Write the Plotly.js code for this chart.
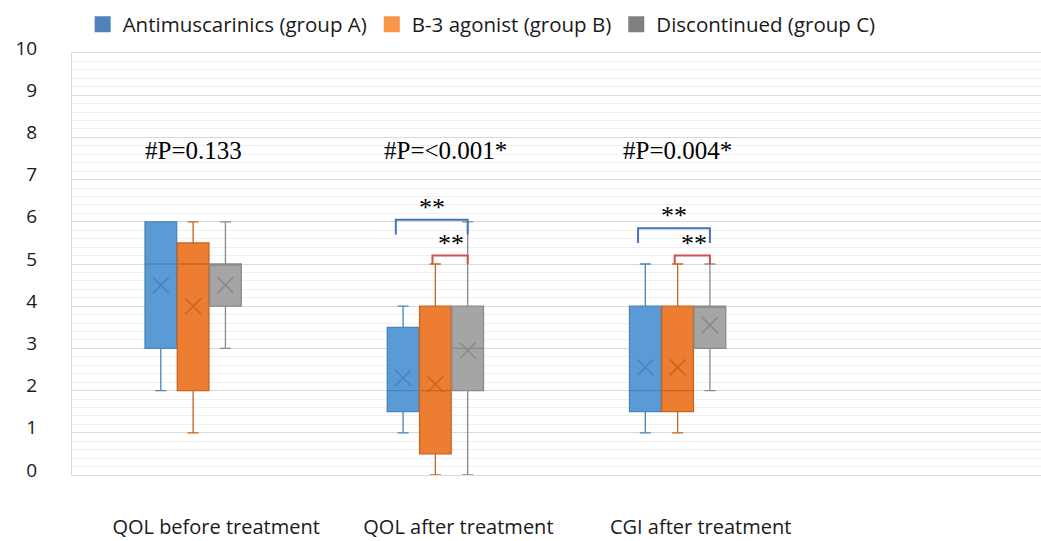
<!DOCTYPE html>
<html><head><meta charset="utf-8">
<script src="https://cdn.plot.ly/plotly-3.0.1.min.js"></script>
<style>html,body{margin:0;padding:0;background:#fff}#chart{width:1041px;height:541px}</style>
</head><body><div id="chart"></div>
<script>
// ---- data ----
const categories = ['QOL before treatment', 'QOL after treatment', 'CGI after treatment'];
const seriesNames = ['Antimuscarinics (group A)', 'B-3 agonist (group B)', 'Discontinued (group C)'];

const lowerA  = [2, 1, 1];
const q1A     = [3, 1.5, 1.5];
const medianA = [5, 2, 2];
const q3A     = [6, 3.5, 4];
const upperA  = [6, 4, 5];
const meanA   = [4.5, 2.3, 2.55];

const lowerB  = [1, 0, 1];
const q1B     = [2, 0.5, 1.5];
const medianB = [5, 2, 2];
const q3B     = [5.5, 4, 4];
const upperB  = [6, 5, 5];
const meanB   = [4, 2.15, 2.55];

const lowerC  = [3, 0, 2];
const q1C     = [4, 2, 3];
const medianC = [5, 3, 4];
const q3C     = [5, 4, 4];
const upperC  = [6, 6, 5];
const meanC   = [4.5, 2.95, 3.55];

const pLabels = ['#P=0.133', '#P=<0.001*', '#P=0.004*'];
const pLevel = 7.7;

// significance brackets: category index, bracket level, drop level, label
const bracketCategory = [1, 1, 2, 2];
const bracketKind     = ['AC', 'BC', 'AC', 'BC'];
const bracketTop      = [6.05, 5.2, 5.85, 5.2];
const bracketDrop     = [5.7, 5.0, 5.5, 5.0];
const bracketLabel    = ['**', '**', '**', '**'];

// ---- styles ----
const fills   = ['#5B9BD5', '#ED7D31', '#A5A5A5'];
const lines   = ['#4A84BD', '#C8651F', '#8A8A8A'];
const legendC = ['#4F81BD', '#F79646', '#808080'];
const bracketColors = {AC: '#4472C4', BC: '#D0504D'};

const lowers = [lowerA, lowerB, lowerC];
const q1s = [q1A, q1B, q1C];
const meds = [medianA, medianB, medianC];
const q3s = [q3A, q3B, q3C];
const uppers = [upperA, upperB, upperC];
const means = [meanA, meanB, meanC];

const traces = [];
for (let i = 0; i < 3; i++) {
  traces.push({
    type: 'box', name: seriesNames[i], x: categories,
    q1: q1s[i], median: meds[i], q3: q3s[i],
    lowerfence: lowers[i], upperfence: uppers[i],
    boxpoints: false, offsetgroup: 'g' + i,
    fillcolor: fills[i], line: {color: lines[i], width: 1.3},
    whiskerwidth: 0.35, showlegend: false, hoverinfo: 'skip'
  });
}
for (let i = 0; i < 3; i++) {
  traces.push({
    type: 'scatter', mode: 'markers', x: categories, y: means[i],
    offsetgroup: 'g' + i, showlegend: false, hoverinfo: 'skip',
    marker: {symbol: 'x-thin-open', size: 16, color: lines[i], line: {width: 1.6, color: lines[i]}}
  });
}
// legend entries
for (let i = 0; i < 3; i++) {
  traces.push({
    type: 'scatter', mode: 'markers', x: [null], y: [null], xaxis: 'x2', yaxis: 'y2',
    name: seriesNames[i], showlegend: true,
    marker: {symbol: 'square', size: 16, color: legendC[i]}
  });
}

// box centers within a category (boxgap 0.6, 3 boxes)
const slot = (1 - 0.6) / 3;
const centerOf = {A: -slot, B: 0, C: slot};

const shapes = [];
const annotations = [];
for (let k = 0; k < bracketCategory.length; k++) {
  const c = bracketCategory[k];
  const kind = bracketKind[k];
  const x0 = c + (kind === 'AC' ? centerOf.A - 0.03 : centerOf.B - 0.012);
  const x1 = c + centerOf.C;
  shapes.push({
    type: 'path', xref: 'x', yref: 'y',
    path: `M ${x0} ${bracketDrop[k]} L ${x0} ${bracketTop[k]} L ${x1} ${bracketTop[k]} L ${x1} ${bracketDrop[k]}`,
    line: {color: bracketColors[kind], width: 2}
  });
  annotations.push({
    x: (x0 + x1) / 2 + (kind === 'BC' ? 0.005 : 0), y: bracketTop[k], xref: 'x', yref: 'y',
    yanchor: 'bottom', yshift: -4, showarrow: false, text: bracketLabel[k],
    font: {family: 'Liberation Serif', size: 26, color: '#000'}
  });
}
for (let c = 0; c < pLabels.length; c++) {
  annotations.push({
    x: c, y: pLevel, xref: 'x', yref: 'y', showarrow: false, text: pLabels[c],
    xshift: c === 1 ? 10 : 0,
    font: {family: 'Liberation Serif', size: 25, color: '#000'}
  });
}

const layout = {
  width: 1041, height: 541,
  margin: {l: 72, r: 0, t: 52.5, b: 66},
  paper_bgcolor: '#fff', plot_bgcolor: '#fff',
  boxmode: 'group', boxgap: 0.6, boxgroupgap: 0.02,
  scattermode: 'group', scattergap: 0.6,
  showlegend: true,
  legend: {orientation: 'h', x: 0.011, xanchor: 'left', y: 1.115, yanchor: 'top',
           font: {family: 'Open Sans', size: 20.5, color: '#1a1a1a'}, itemwidth: 30,
           bgcolor: 'rgba(0,0,0,0)'},
  xaxis: {type: 'category', categoryarray: categories, categoryorder: 'array',
          range: [-0.5, 3.5], showgrid: false, zeroline: false, ticks: '',
          showline: true, mirror: true, linecolor: '#D9D9D9', linewidth: 1,
          tickfont: {family: 'Open Sans', size: 20, color: '#1a1a1a'},
          ticklabelstandoff: 34, ticklabelshift: 23, fixedrange: true},
  yaxis: {range: [0, 10], dtick: 1, tick0: 0, showgrid: true, gridcolor: '#D9D9D9', gridwidth: 1,
          minor: {dtick: 0.2, showgrid: true, gridcolor: '#EFEFEF', gridwidth: 1},
          zeroline: false, ticks: '', showline: true, linecolor: '#D9D9D9',
          tickfont: {family: 'Open Sans', size: 19, color: '#1a1a1a'},
          ticklabelstandoff: 30, ticklabelshift: -5, fixedrange: true},
  xaxis2: {overlaying: 'x', visible: false, range: [0, 1]},
  yaxis2: {overlaying: 'y', visible: false, range: [0, 1]},
  shapes: shapes,
  annotations: annotations
};

Plotly.newPlot('chart', traces, layout, {displayModeBar: false, staticPlot: true});
</script>
</body></html>
